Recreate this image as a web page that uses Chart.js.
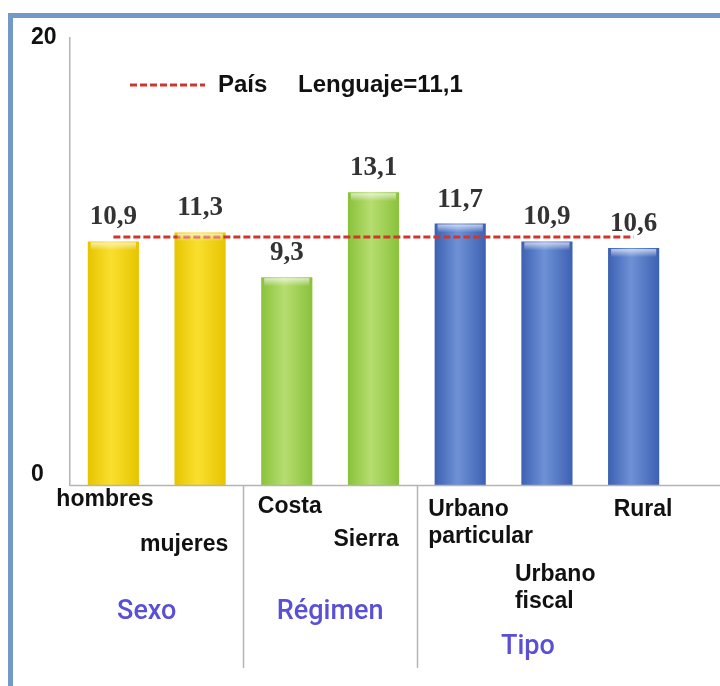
<!DOCTYPE html>
<html>
<head>
<meta charset="utf-8">
<script src="https://cdn.jsdelivr.net/npm/chart.js@4.4.1/dist/chart.umd.min.js"></script>
<style>
  body { margin: 0; background: #fff; }
  #wrap { position: relative; width: 720px; height: 686px; overflow: hidden; }
  #frame { position: absolute; left: 8px; top: 13px; width: 780px; height: 760px;
           border: 5px solid #7399c9; box-sizing: border-box; }
  #chart { position: absolute; left: 0; top: 0; }
</style>
</head>
<body>
<div id="wrap">
  <div id="frame"></div>
  <canvas id="chart" width="720" height="686"></canvas>
</div>
<script>
const categories = ["hombres", "mujeres", "Costa", "Sierra", ["Urbano", "particular"], ["Urbano", "fiscal"], "Rural"];
const puntaje = [10.9, 11.3, 9.3, 13.1, 11.7, 10.9, 10.6];
const grupo = [0, 0, 1, 1, 2, 2, 2];
const grupos = ["Sexo", "Régimen", "Tipo"];
const pais = [11.1, 11.1, 11.1, 11.1, 11.1, 11.1, 11.1];
const paisLabel = "País";
const paisNota = "Lenguaje=11,1";
const yTicks = [0, 20];

// edge / centre colours for the cylinder look, one per group
const palette = [
  ["#e6c400", "#f9df2e"],
  ["#89c23a", "#b6dd70"],
  ["#3d61b2", "#6e91d6"],
];

const NARROW = '"Liberation Sans Narrow", "Arial Narrow", "Liberation Sans", sans-serif';

// where each category label sits: x offset from bar centre (left edge of text), y of first line
const labelPos = [
  [-57, 500], [-60, 545], [-29, 507], [-40, 540], [-32, 510], [-32, 575], [-20, 510]
];
const groupPos = [[-10, 612], [0, 612], [-19, 647]];

function barFill(context) {
  const chart = context.chart;
  const x = chart.scales.x;
  if (!chart.chartArea || !x) return palette[grupo[context.dataIndex]][0];
  const c = x.getPixelForValue(context.dataIndex);
  const half = (chart.chartArea.width / categories.length) * 0.59 / 2;
  const g = chart.ctx.createLinearGradient(c - half, 0, c + half, 0);
  const col = palette[grupo[context.dataIndex]];
  g.addColorStop(0, col[0]);
  g.addColorStop(0.45, col[1]);
  g.addColorStop(1, col[0]);
  return g;
}

const extras = {
  id: "extras",
  afterDatasetsDraw(chart) {
    // light cap on top of each bar
    const ctx = chart.ctx;
    ctx.save();
    chart.getDatasetMeta(1).data.forEach(b => {
      const half = b.width / 2;
      const g = ctx.createLinearGradient(0, b.y, 0, b.y + 9);
      g.addColorStop(0, "rgba(255,255,255,0.75)");
      g.addColorStop(1, "rgba(255,255,255,0)");
      ctx.fillStyle = g;
      ctx.fillRect(b.x - half + 3, b.y + 1, b.width - 6, 9);
    });
    ctx.restore();
  },
  afterDraw(chart) {
    const ctx = chart.ctx;
    const x = chart.scales.x;
    const area = chart.chartArea;
    ctx.save();

    // x axis line running to the edge
    ctx.strokeStyle = "#b4b4b4";
    ctx.lineWidth = 1.5;
    ctx.beginPath();
    ctx.moveTo(area.left, area.bottom + 0.5);
    ctx.lineTo(chart.width, area.bottom + 0.5);
    ctx.stroke();

    // group separators
    const step = area.width / categories.length;
    [2, 4].forEach(i => {
      const sx = Math.round(area.left + step * i) + 0.5;
      ctx.beginPath();
      ctx.moveTo(sx, area.bottom);
      ctx.lineTo(sx, 668);
      ctx.stroke();
    });

    // value labels
    const bars = chart.getDatasetMeta(1).data;
    ctx.fillStyle = "#333";
    ctx.font = 'bold 27px "Liberation Serif", "Times New Roman", serif';
    ctx.textAlign = "center";
    ctx.textBaseline = "alphabetic";
    bars.forEach((b, i) => {
      ctx.fillText(String(puntaje[i]).replace(".", ","), b.x, b.y - 17);
    });

    // category labels
    ctx.fillStyle = "#111";
    ctx.font = "bold 23px " + NARROW;
    ctx.textAlign = "left";
    ctx.textBaseline = "middle";
    categories.forEach((lab, i) => {
      const lines = Array.isArray(lab) ? lab : [lab];
      const cx = x.getPixelForValue(i) + labelPos[i][0];
      lines.forEach((ln, k) => ctx.fillText(ln, cx, labelPos[i][1] + k * 27));
    });

    // group labels
    ctx.fillStyle = "#5a50d8";
    ctx.font = '500 27px Roboto, "Liberation Sans", sans-serif';
    ctx.textAlign = "center";
    grupos.forEach((g, j) => {
      const idx = grupo.map((v, i) => v === j ? i : -1).filter(i => i >= 0);
      const c = (x.getPixelForValue(idx[0]) + x.getPixelForValue(idx[idx.length - 1])) / 2;
      ctx.fillText(g, c + groupPos[j][0], groupPos[j][1]);
    });

    // legend
    ctx.strokeStyle = "#d0362c";
    ctx.lineWidth = 3;
    ctx.setLineDash([7, 3]);
    ctx.beginPath();
    ctx.moveTo(130, 85);
    ctx.lineTo(205, 85);
    ctx.stroke();
    ctx.setLineDash([]);
    ctx.fillStyle = "#111";
    ctx.font = "bold 24px " + NARROW;
    ctx.textAlign = "left";
    ctx.fillText(paisLabel, 218, 85);
    ctx.fillText(paisNota, 298, 85);

    ctx.restore();
  }
};

new Chart(document.getElementById("chart"), {
  data: {
    labels: categories,
    datasets: [
      {
        type: "line",
        label: paisLabel,
        data: pais,
        borderColor: "#d0362c",
        borderWidth: 3,
        borderDash: [7, 3],
        pointRadius: 0,
        order: 0,
      },
      {
        type: "bar",
        label: "Lenguaje",
        data: puntaje,
        backgroundColor: barFill,
        barPercentage: 0.59,
        categoryPercentage: 1,
        order: 1,
      },
    ],
  },
  options: {
    responsive: false,
    animation: false,
    layout: { padding: { top: 38, right: 43, left: 31, bottom: 0 } },
    plugins: { legend: { display: false }, tooltip: { enabled: false } },
    scales: {
      x: {
        ticks: { display: false },
        grid: { display: false },
        border: { display: false },
        afterFit: s => { s.height = 201; },
      },
      y: {
        min: 0,
        max: 20,
        afterBuildTicks: s => { s.ticks = yTicks.map(v => ({ value: v })); },
        ticks: {
          color: "#111",
          padding: 0,
          crossAlign: "far",
          // the 0 label sits a little above the axis
          callback: v => (v === 0 ? ["0", ""] : String(v)),
          font: { family: NARROW, size: 23, weight: "bold", lineHeight: 0.87 },
        },
        grid: { display: false },
        border: { color: "#b4b4b4", width: 1.5 },
        afterFit: s => { s.width = 39; },
      },
    },
  },
  plugins: [extras],
});
</script>
</body>
</html>
